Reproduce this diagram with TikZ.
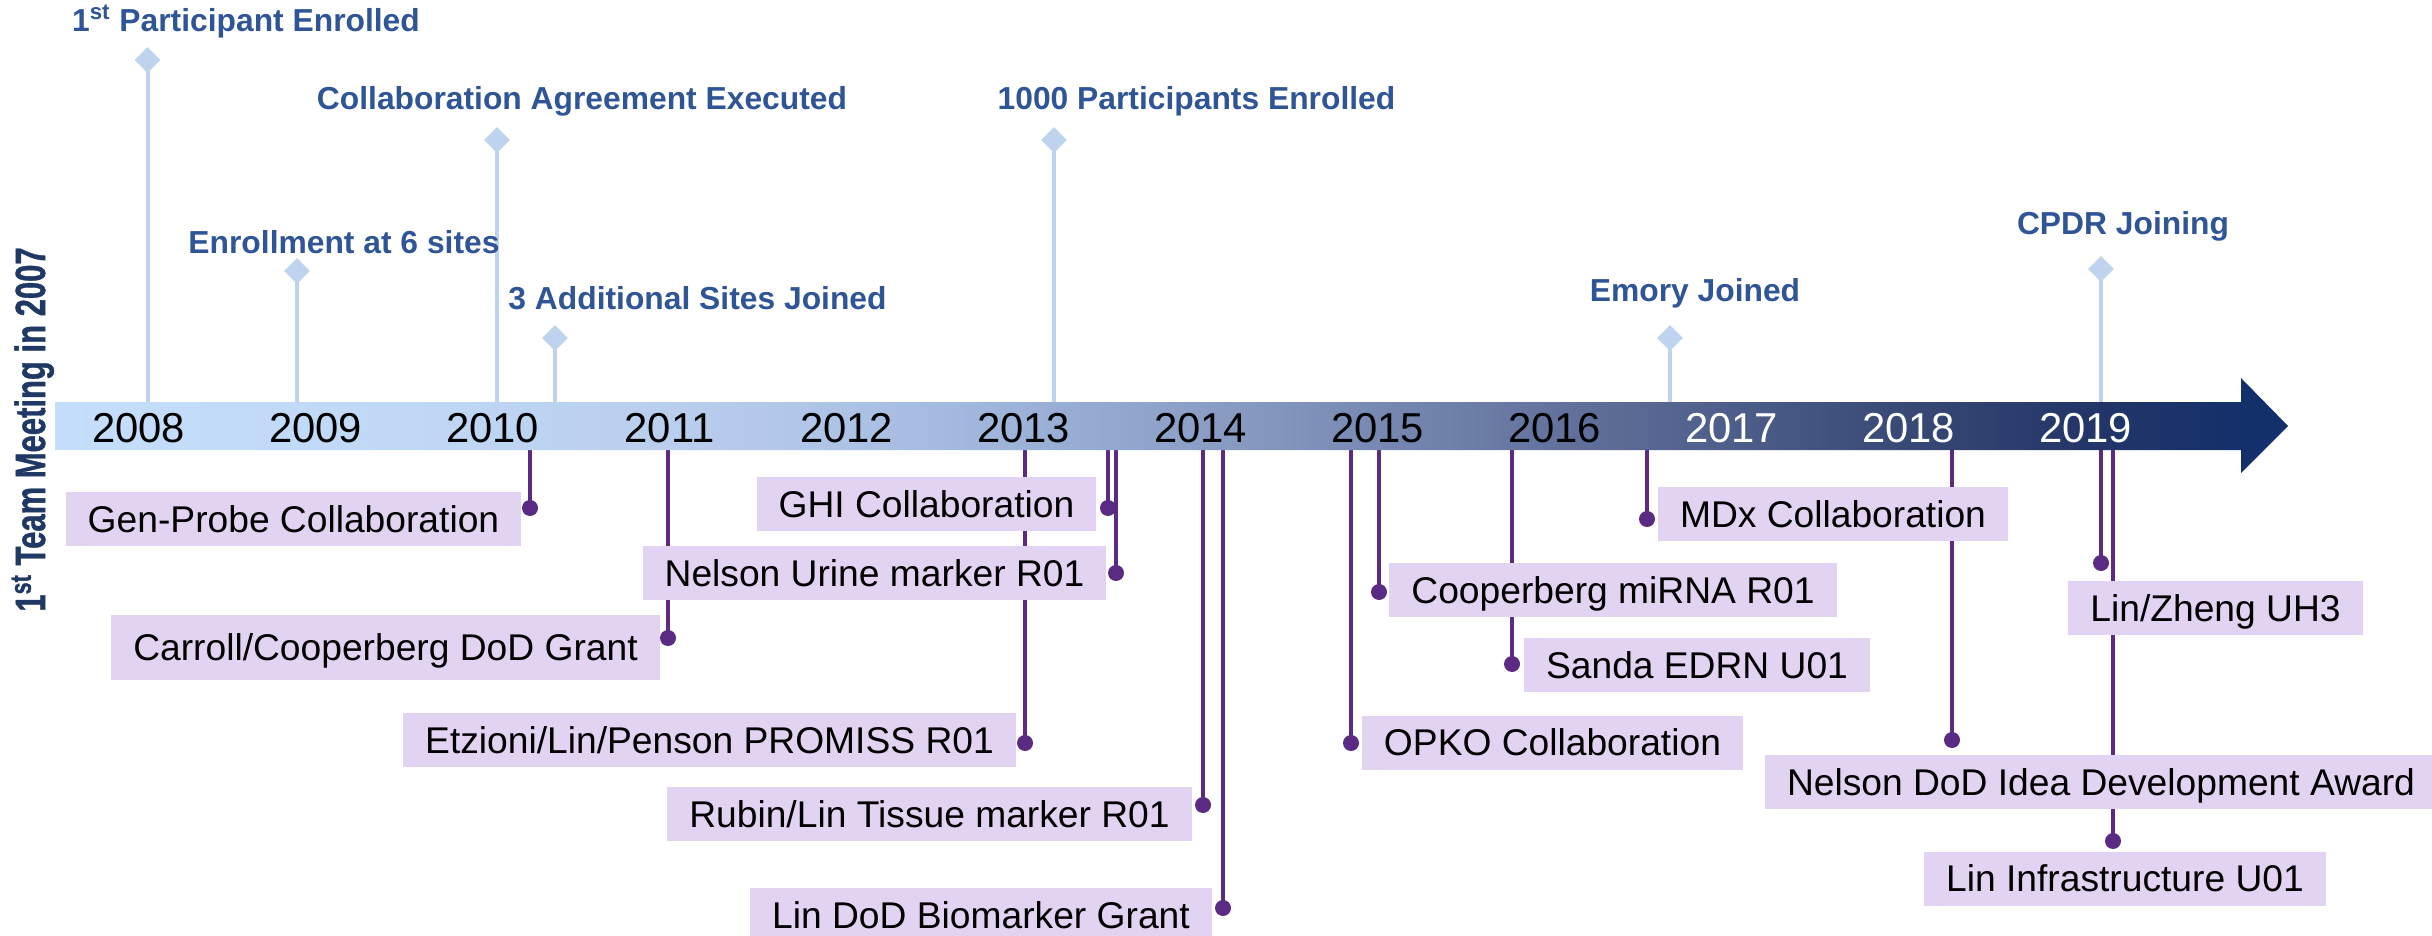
\documentclass[tikz,border=0pt]{standalone}
\usepackage{fontspec}
\setmainfont{Liberation Sans}
\newfontfamily\sidetitlefont{Liberation Sans Bold}[FakeBold=1.2]
\usetikzlibrary{shapes.geometric}

% palette
\definecolor{labelblue}{HTML}{2F5597}
\definecolor{titlenavy}{HTML}{1F3864}
\definecolor{pinblue}{HTML}{BED4EE}
\definecolor{grape}{HTML}{5B2A82}
\definecolor{lilac}{HTML}{E1D3F1}
% timeline bar, light blue to navy
\definecolor{bar0}{HTML}{C4DEFB}
\definecolor{bar1}{HTML}{C0D8F6}
\definecolor{bar2}{HTML}{BACEEE}
\definecolor{bar3}{HTML}{ADC3E6}
\definecolor{bar4}{HTML}{9DB2D8}
\definecolor{bar5}{HTML}{8B9FC6}
\definecolor{bar6}{HTML}{7789B2}
\definecolor{bar7}{HTML}{63739D}
\definecolor{bar8}{HTML}{4E5E8A}
\definecolor{bar9}{HTML}{384975}
\definecolor{bar10}{HTML}{243669}
\definecolor{bar11}{HTML}{14306A}
\pgfdeclarehorizontalshading{barshade}{100bp}{%
  color(0bp)=(bar0); color(25bp)=(bar0); color(32.7bp)=(bar1);
  color(38.7bp)=(bar2); color(42.7bp)=(bar3); color(46.6bp)=(bar4);
  color(50.6bp)=(bar5); color(54.6bp)=(bar6); color(58.5bp)=(bar7);
  color(62.5bp)=(bar8); color(66.5bp)=(bar9); color(70.4bp)=(bar10);
  color(73.9bp)=(bar11); color(100bp)=(bar11)}

\tikzset{
  milestone/.style={font=\bfseries\fontsize{15.9}{18}\selectfont, text=labelblue,
    anchor=base, inner sep=0pt},
  pin/.style={diamond, fill=pinblue, minimum width=13pt, minimum height=13pt, inner sep=0pt},
  pinline/.style={draw=pinblue, line width=2pt},
  yearlabel/.style={font=\fontsize{20.9}{24}\selectfont, anchor=base, inner sep=0pt},
  grant/.style={fill=lilac, font=\fontsize{18.6}{22}\selectfont, inner xsep=11pt,
    inner ysep=0pt, minimum height=27pt, text height=13.3pt, text depth=0pt},
  knob/.style={circle, fill=grape, minimum size=8pt, inner sep=0pt},
  grantline/.style={draw=grape, line width=1.7pt},
}

\begin{document}
\begin{tikzpicture}[x=0.5pt, y=-0.5pt]
\useasboundingbox (0,0) rectangle (2432,936);

% ---- milestones above the bar ----
\foreach \n/\x/\y in {1/147.5/60, 2/297/271, 3/497/140, 4/555/338,
                      5/1054/140, 6/1670/338, 7/2101/269}{
  \coordinate (t\n) at (\x,402);
  \node[pin] (p\n) at (\x,\y) {};
  \draw[pinline] (t\n) -- (p\n.center);
}
\node[milestone] (m1) at (246,32)    {1\textsuperscript{st} Participant Enrolled};
\node[milestone] (m2) at (344,254)   {Enrollment at 6 sites};
\node[milestone] (m3) at (582,110)   {Collaboration Agreement Executed};
\node[milestone] (m4) at (697.5,310) {3 Additional Sites Joined};
\node[milestone] (m5) at (1196.5,110){1000 Participants Enrolled};
\node[milestone] (m6) at (1695,302)  {Emory Joined};
\node[milestone] (m7) at (2123,235)  {CPDR Joining};

% ---- grants and collaborations below the bar ----
\foreach \n/\x/\y in {1/530/508, 2/668/638, 3/1108/508, 4/1116/573,
                      5/1025/743, 6/1203/805, 7/1223/908, 8/1351/743,
                      9/1379/592, 10/1512/664, 11/1647/519, 12/1952/740,
                      13/2101/563, 14/2113/841}{
  \coordinate (s\n) at (\x,449);
  \node[knob] (k\n) at (\x,\y) {};
  \draw[grantline] (s\n) -- (k\n.center);
}
\node[grant] (g1)  at (293.5,519)  {Gen-Probe Collaboration};
\node[grant, minimum height=32.5pt] (g2) at (385.5,647.5) {Carroll/Cooperberg DoD Grant};
\node[grant] (g3)  at (926.5,504)  {GHI Collaboration};
\node[grant] (g4)  at (874.5,573)  {Nelson Urine marker R01};
\node[grant] (g5)  at (709.5,740)  {Etzioni/Lin/Penson PROMISS R01};
\node[grant] (g6)  at (929.5,814)  {Rubin/Lin Tissue marker R01};
\node[grant] (g7)  at (981,915)    {Lin DoD Biomarker Grant};
\node[grant] (g8)  at (1552.5,742.5) {OPKO Collaboration};
\node[grant] (g9)  at (1613,590)   {Cooperberg miRNA R01};
\node[grant] (g10) at (1697,665)   {Sanda EDRN U01};
\node[grant] (g11) at (1833,514)   {MDx Collaboration};
\node[grant] (g12) at (2101,782)   {Nelson DoD Idea Development Award};
\node[grant] (g13) at (2215.5,608) {Lin/Zheng UH3};
\node[grant] (g14) at (2125,878.5) {Lin Infrastructure U01};

% ---- timeline bar ----
\shade[shading=barshade] (55,402) -- (2241,402) -- (2241,378) -- (2288,426)
  -- (2241,473) -- (2241,450) -- (55,450) -- cycle;
\foreach \k in {0,...,8}{
  \pgfmathtruncatemacro\yr{2008+\k}
  \node[yearlabel] (y\yr) at ({138.5+177*\k},442) {\yr};
}
\foreach \k in {9,10,11}{
  \pgfmathtruncatemacro\yr{2008+\k}
  \node[yearlabel, text=white] (y\yr) at ({138.5+177*\k},442) {\yr};
}

% ---- side title ----
\node[anchor=base, rotate=90, inner sep=0pt, text=titlenavy,
      font=\sidetitlefont\fontsize{15.5}{18}\selectfont] (title) at (45,429.5)
  {\scalebox{1}[1.36]{1\textsuperscript{st} Team Meeting in 2007}};
\end{tikzpicture}
\end{document}
